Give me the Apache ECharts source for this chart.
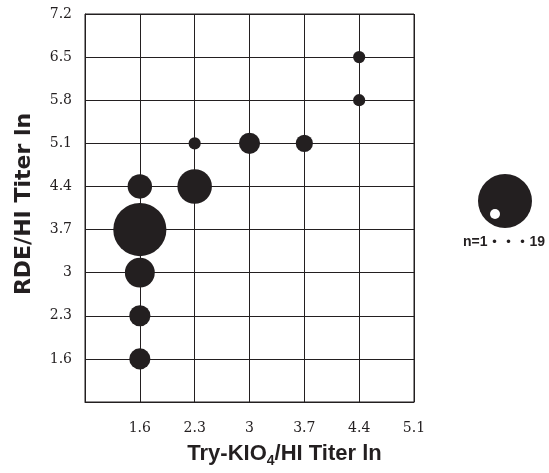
<!DOCTYPE html>
<html>
<head>
<meta charset="utf-8">
<script src="https://cdn.jsdelivr.net/npm/echarts@6/dist/echarts.min.js"></script>
<style>html,body{margin:0;padding:0;background:#fff;}#c{width:549px;height:473px;}</style>
</head>
<body>
<div id="c"></div>
<script>
// Axis tick values (ln titers)
var xTicks = ['0.9', '1.6', '2.3', '3', '3.7', '4.4', '5.1'];
var yTicks = ['0.9', '1.6', '2.3', '3', '3.7', '4.4', '5.1', '5.8', '6.5', '7.2'];
// Bubble data: x titer, y titer, count n
var xVals = ['1.6', '1.6', '1.6', '1.6', '1.6', '2.3', '2.3', '3', '3.7', '4.4', '4.4'];
var yVals = ['1.6', '2.3', '3', '3.7', '4.4', '4.4', '5.1', '5.1', '5.1', '5.8', '6.5'];
var counts = [3, 3, 6, 19, 4, 8, 1, 3, 2, 1, 1];

var ink = '#231f20';
var data = xVals.map(function (x, i) { return [x, yVals[i], counts[i]]; });

var chart = echarts.init(document.getElementById('c'));
chart.setOption({
  animation: false,
  grid: { left: 85, right: 135, top: 14, bottom: 71, show: true, borderColor: ink, borderWidth: 1, backgroundColor: 'transparent' },
  xAxis: {
    type: 'category', data: xTicks, boundaryGap: false,
    axisLine: { lineStyle: { color: ink, width: 1 } },
    axisTick: { show: false },
    splitLine: { show: true, lineStyle: { color: ink, width: 1 } },
    axisLabel: { interval: 0, margin: 19, color: ink, fontFamily: 'DejaVu Serif', fontSize: 14,
      formatter: function (v, i) { return i === 0 ? '' : v; } },
    name: 'Try-KIO{sub|4}/HI Titer ln', nameLocation: 'middle', nameGap: 38,
    nameTextStyle: { fontFamily: 'Liberation Sans', fontWeight: 'bold', fontSize: 22, color: ink, padding: [0, 0, 0, 70],
      rich: { sub: { fontFamily: 'Liberation Sans', fontWeight: 'bold', fontSize: 14, color: ink, verticalAlign: 'bottom', padding: [14, 0, 0, 0] } } }
  },
  yAxis: {
    type: 'category', data: yTicks, boundaryGap: false,
    axisLine: { lineStyle: { color: ink, width: 1 } },
    axisTick: { show: false },
    splitLine: { show: true, lineStyle: { color: ink, width: 1 } },
    axisLabel: { interval: 0, margin: 13, color: ink, fontFamily: 'DejaVu Serif', fontSize: 14,
      formatter: function (v, i) { return i === 0 ? '' : v; } },
    name: 'RDE/HI Titer ln', nameLocation: 'middle', nameGap: 50,
    nameTextStyle: { fontFamily: 'DejaVu Sans', fontWeight: 'bold', fontSize: 22, color: ink, padding: [0, 0, 0, 8] }
  },
  series: [{
    type: 'scatter',
    data: data,
    symbolSize: function (v) { return 12.2 * Math.sqrt(v[2]); },
    itemStyle: { color: ink, opacity: 1 }
  }],
  graphic: [
    { type: 'circle', shape: { cx: 505, cy: 201, r: 27 }, style: { fill: ink } },
    { type: 'circle', shape: { cx: 495, cy: 214, r: 5 }, style: { fill: '#fff' } },
    { type: 'text', x: 504, y: 242, style: { text: 'n=1・・・19', fill: ink, font: 'bold 14px "Liberation Sans", "Noto Sans CJK JP"', textAlign: 'center', textVerticalAlign: 'middle' } }
  ]
});
</script>
</body>
</html>
